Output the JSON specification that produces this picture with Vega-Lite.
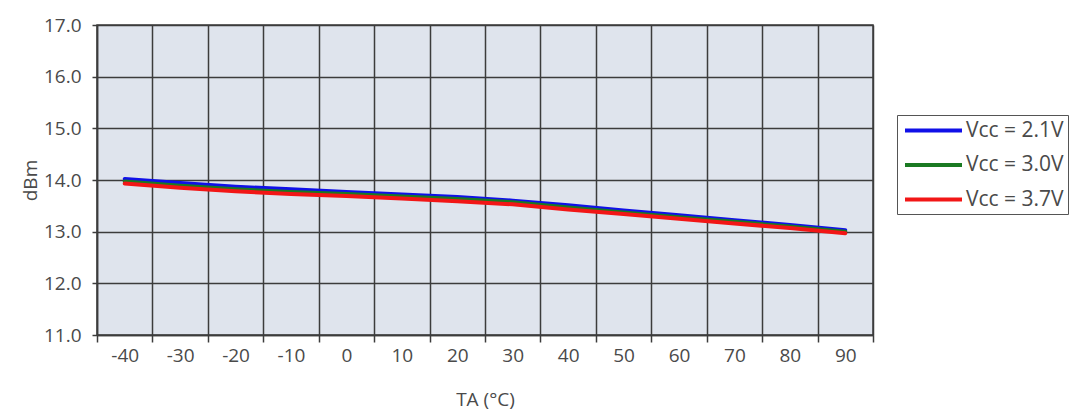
{
  "$schema": "https://vega.github.io/schema/vega-lite/v6.json",
  "width": 776,
  "height": 310,
  "autosize": "none",
  "padding": {"left": 97, "top": 25, "right": 197, "bottom": 77},
  "background": "white",
  "config": {
    "font": "Open Sans",
    "view": {"fill": "#dfe4ed", "stroke": "#3c3c3c", "strokeWidth": 1.5},
    "axis": {
      "labelFont": "Open Sans", "labelFontSize": 19, "labelColor": "#4a4a4a",
      "titleFont": "Open Sans", "titleFontSize": 19, "titleColor": "#4a4a4a", "titleFontWeight": "normal",
      "domainColor": "#3c3c3c", "domainWidth": 1.5,
      "gridColor": "#3c3c3c", "gridWidth": 1.5, "gridOpacity": 1,
      "tickColor": "#3c3c3c", "tickWidth": 1.5
    }
  },
  "data": {"values": [
    {"ta": -40, "vcc": "Vcc = 2.1V", "dbm": 14.02},
    {"ta": -30, "vcc": "Vcc = 2.1V", "dbm": 13.94},
    {"ta": -20, "vcc": "Vcc = 2.1V", "dbm": 13.87},
    {"ta": -10, "vcc": "Vcc = 2.1V", "dbm": 13.82},
    {"ta": 0, "vcc": "Vcc = 2.1V", "dbm": 13.77},
    {"ta": 10, "vcc": "Vcc = 2.1V", "dbm": 13.72},
    {"ta": 20, "vcc": "Vcc = 2.1V", "dbm": 13.67},
    {"ta": 30, "vcc": "Vcc = 2.1V", "dbm": 13.6},
    {"ta": 40, "vcc": "Vcc = 2.1V", "dbm": 13.51},
    {"ta": 50, "vcc": "Vcc = 2.1V", "dbm": 13.41},
    {"ta": 60, "vcc": "Vcc = 2.1V", "dbm": 13.32},
    {"ta": 70, "vcc": "Vcc = 2.1V", "dbm": 13.22},
    {"ta": 80, "vcc": "Vcc = 2.1V", "dbm": 13.13},
    {"ta": 90, "vcc": "Vcc = 2.1V", "dbm": 13.03},
    {"ta": -40, "vcc": "Vcc = 3.0V", "dbm": 13.97},
    {"ta": -30, "vcc": "Vcc = 3.0V", "dbm": 13.89},
    {"ta": -20, "vcc": "Vcc = 3.0V", "dbm": 13.82},
    {"ta": -10, "vcc": "Vcc = 3.0V", "dbm": 13.77},
    {"ta": 0, "vcc": "Vcc = 3.0V", "dbm": 13.73},
    {"ta": 10, "vcc": "Vcc = 3.0V", "dbm": 13.68},
    {"ta": 20, "vcc": "Vcc = 3.0V", "dbm": 13.63},
    {"ta": 30, "vcc": "Vcc = 3.0V", "dbm": 13.57},
    {"ta": 40, "vcc": "Vcc = 3.0V", "dbm": 13.47},
    {"ta": 50, "vcc": "Vcc = 3.0V", "dbm": 13.37},
    {"ta": 60, "vcc": "Vcc = 3.0V", "dbm": 13.28},
    {"ta": 70, "vcc": "Vcc = 3.0V", "dbm": 13.19},
    {"ta": 80, "vcc": "Vcc = 3.0V", "dbm": 13.1},
    {"ta": 90, "vcc": "Vcc = 3.0V", "dbm": 13.0},
    {"ta": -40, "vcc": "Vcc = 3.7V", "dbm": 13.93},
    {"ta": -30, "vcc": "Vcc = 3.7V", "dbm": 13.85},
    {"ta": -20, "vcc": "Vcc = 3.7V", "dbm": 13.78},
    {"ta": -10, "vcc": "Vcc = 3.7V", "dbm": 13.73},
    {"ta": 0, "vcc": "Vcc = 3.7V", "dbm": 13.69},
    {"ta": 10, "vcc": "Vcc = 3.7V", "dbm": 13.64},
    {"ta": 20, "vcc": "Vcc = 3.7V", "dbm": 13.59},
    {"ta": 30, "vcc": "Vcc = 3.7V", "dbm": 13.53},
    {"ta": 40, "vcc": "Vcc = 3.7V", "dbm": 13.43},
    {"ta": 50, "vcc": "Vcc = 3.7V", "dbm": 13.34},
    {"ta": 60, "vcc": "Vcc = 3.7V", "dbm": 13.25},
    {"ta": 70, "vcc": "Vcc = 3.7V", "dbm": 13.16},
    {"ta": 80, "vcc": "Vcc = 3.7V", "dbm": 13.07},
    {"ta": 90, "vcc": "Vcc = 3.7V", "dbm": 12.97}
  ]},
  "mark": {"type": "line", "strokeWidth": 4, "strokeCap": "round"},
  "encoding": {
    "x": {
      "field": "ta", "type": "quantitative",
      "scale": {"domain": [-45, 95], "nice": false, "zero": false},
      "axis": {
        "title": "TA (°C)", "titleY": 55, "titleBaseline": "top",
        "values": [-45, -35, -25, -15, -5, 5, 15, 25, 35, 45, 55, 65, 75, 85, 95],
        "labelExpr": "datum.value >= 95 ? '' : '' + (datum.value + 5)",
        "labelOffset": 27.71, "labelFlush": false, "labelOverlap": false, "labelBound": false,
        "tickSize": 7, "labelPadding": 4, "grid": true
      }
    },
    "y": {
      "field": "dbm", "type": "quantitative",
      "scale": {"domain": [11, 17], "nice": false, "zero": false},
      "axis": {
        "title": "dBm", "titleX": -67, "titleBaseline": "middle",
        "values": [11, 12, 13, 14, 15, 16, 17], "format": ".1f",
        "tickSize": 5, "labelPadding": 11, "grid": true, "labelFlush": false
      }
    },
    "color": {
      "field": "vcc", "type": "nominal",
      "scale": {"domain": ["Vcc = 2.1V", "Vcc = 3.0V", "Vcc = 3.7V"], "range": ["#1010e8", "#1a7a22", "#f21616"]},
      "legend": {
        "title": null, "orient": "none", "legendX": 800, "legendY": 90,
        "symbolType": "M-3,0H3", "symbolSize": 361, "symbolStrokeWidth": 4,
        "symbolOffset": 21,
        "labelFont": "Open Sans", "labelFontSize": 21, "labelColor": "#4a4a4a",
        "strokeColor": "#555555", "fillColor": "white", "padding": 4,
        "rowPadding": 12.5, "labelOffset": 21
      }
    }
  }
}
